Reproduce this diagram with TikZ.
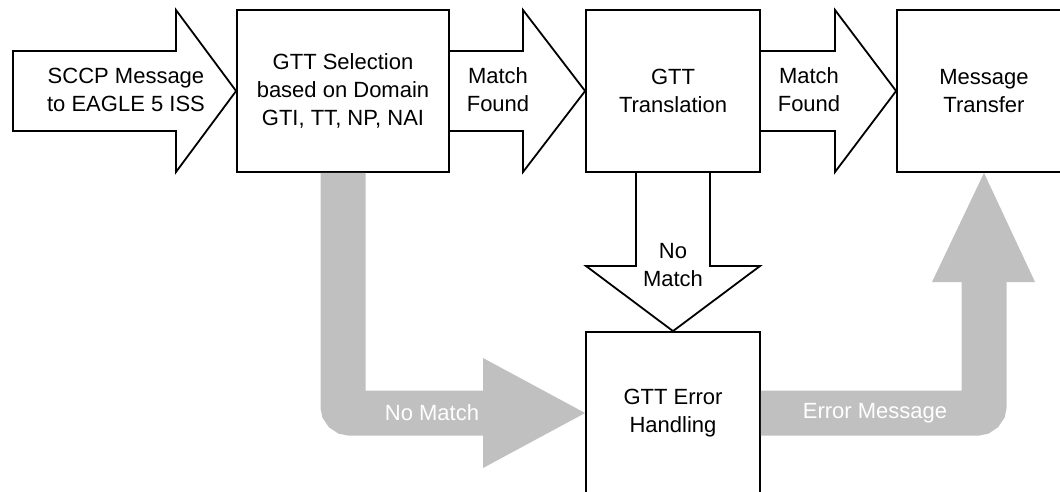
\documentclass[tikz,border=0pt]{standalone}
\usepackage{fontspec}
\setmainfont{Liberation Sans}
\usepackage{tikz}

\definecolor{bandgray}{HTML}{C0C0C0}

\tikzset{
  stagebox/.style={draw, line width=1.8pt, minimum width=174pt, minimum height=162pt,
    align=center, font=\fontsize{22}{28}\selectfont},
  blockarrow/.style={draw, line width=1.8pt, line join=miter},
  arrowtext/.style={align=center, font=\fontsize{22}{28}\selectfont},
  band/.style={draw=bandgray, line width=45pt, rounded corners=7pt},
  bandtext/.style={text=white, font=\fontsize{22}{28}\selectfont}
}

\begin{document}
\begin{tikzpicture}[x=1pt,y=-1pt]
\clip (0,0) rectangle (1060,491);
% The boxes
\node[stagebox, minimum width=212pt] (sel) at (343,91) {GTT Selection\\based on Domain\\GTI, TT, NP, NAI};
\node[stagebox] (trans) at (673,91) {GTT\\Translation};
\node[stagebox] (xfer) at (984,91) {Message\\Transfer};
\node[stagebox] (err) at (673,413) {GTT Error\\Handling};
% The block arrows
\draw[blockarrow] (13,51) -- (176,51) -- (176,10) -- (sel.west) -- (176,172) -- (176,131) -- (13,131) -- cycle;
\node[arrowtext] (msgin) at (126,90) {SCCP Message\\to EAGLE 5 ISS};
\draw[blockarrow] (sel.east |- 0,51) -- (523,51) -- (523,10) -- (trans.west) -- (523,172) -- (523,131) -- (sel.east |- 0,131);
\node[arrowtext] (found1) at (498,90) {Match\\Found};
\draw[blockarrow] (trans.east |- 0,51) -- (835,51) -- (835,10) -- (xfer.west) -- (835,172) -- (835,131) -- (trans.east |- 0,131);
\node[arrowtext] (found2) at (809,90) {Match\\Found};
\draw[blockarrow] (636,172) -- (636,266) -- (586,266) -- (err.north) -- (760,266) -- (710,266) -- (710,172);
\node[arrowtext] (nomatch1) at (673,265) {No\\Match};
% The gray arrows
\coordinate (nmhead) at (483,413);
\draw[band] (sel.south) |- (nmhead);
\fill[bandgray] (483,358) -- (err.west) -- (483,468) -- cycle;
\node[bandtext] (nomatch2) at (432,413) {No Match};
\coordinate (emhead) at (984,282);
\draw[band] (err.east) -| (emhead);
\fill[bandgray] (932,282) -- (xfer.south) -- (1035,282) -- cycle;
\node[bandtext] (errmsg) at (875,413) {Error Message};
\end{tikzpicture}
\end{document}
